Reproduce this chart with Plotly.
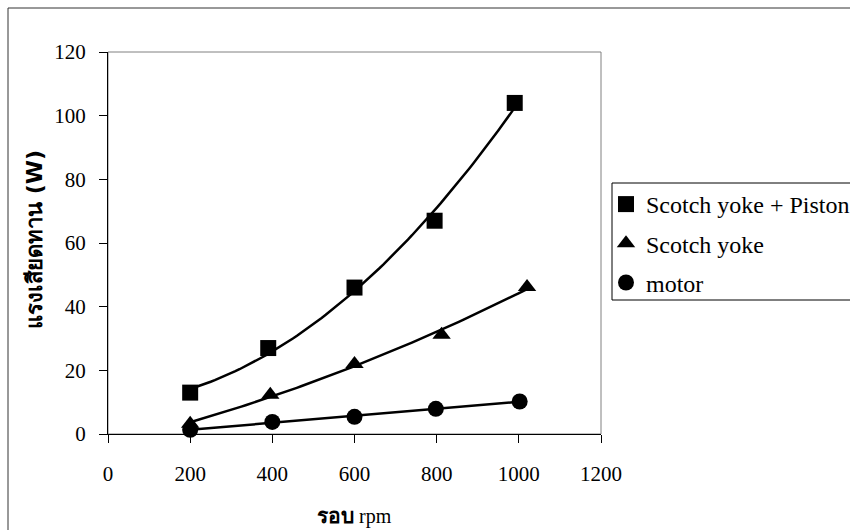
import numpy as np
import plotly.graph_objects as go

# Friction loss (W) against shaft speed (rpm) for three drive configurations
rpm_piston = [200, 390, 600, 795, 990]
loss_piston = [13, 27, 46, 67, 104]

rpm_yoke = [200, 395, 600, 812, 1020]
loss_yoke = [3.2, 12.3, 22, 31.2, 46.2]

rpm_motor = [200, 400, 600, 798, 1002]
loss_motor = [1.3, 3.8, 5.4, 7.9, 10.2]

x_ticks = [0, 200, 400, 600, 800, 1000, 1200]
y_ticks = [0, 20, 40, 60, 80, 100, 120]

names = ["Scotch yoke + Piston", "Scotch yoke", "motor"]

# Figure geometry (pixels)
W, H = 850, 530
ML, MR, MT, MB = 108, 249, 52, 96


def px(xp):
    return (xp - ML) / (W - ML - MR)


def py(yp):
    return (H - MB - yp) / (H - MT - MB)


SERIF = "Liberation Serif"

series = [
    (names[0], rpm_piston, loss_piston, "square", 16, 2),
    (names[1], rpm_yoke, loss_yoke, "triangle-up", 16, 2),
    (names[2], rpm_motor, loss_motor, "circle", 16, 1),
]

fig = go.Figure()

# Trendlines (least-squares polynomial fit through each series)
for name, xs, ys, sym, size, deg in series:
    coef = np.polyfit(xs, ys, deg)
    xf = np.linspace(min(xs), max(xs), 80)
    fig.add_trace(go.Scatter(
        x=xf, y=np.polyval(coef, xf), mode="lines",
        line=dict(color="black", width=2.5),
        showlegend=False, hoverinfo="skip", legendgroup=name,
    ))

# Measured points
for name, xs, ys, sym, size, deg in series:
    fig.add_trace(go.Scatter(
        x=xs, y=ys, mode="markers", name=name, legendgroup=name,
        marker=dict(symbol=sym, size=size, color="black",
                    line=dict(width=0)),
        cliponaxis=False,
    ))

axis_common = dict(
    showgrid=False, zeroline=False, showline=True, linecolor="black",
    linewidth=1, ticks="outside", ticklen=8, tickwidth=1, tickcolor="black",
    tickfont=dict(family=SERIF, size=21, color="black"),
)

fig.update_xaxes(range=[0, 1200], tickvals=x_ticks,
                 ticktext=[str(v) for v in x_ticks],
                 ticklabelstandoff=13, **axis_common)
fig.update_yaxes(range=[0, 120], tickvals=y_ticks,
                 ticktext=[str(v) for v in y_ticks],
                 ticklabelstandoff=9, **axis_common)

shapes = [
    # chart frame
    dict(type="rect", xref="paper", yref="paper",
         x0=px(8), x1=px(900), y0=py(8), y1=py(600),
         line=dict(color="#333333", width=1), fillcolor="rgba(0,0,0,0)",
         layer="below"),
    # plot-area frame
    dict(type="rect", xref="x domain", yref="y domain",
         x0=0, x1=1, y0=0, y1=1,
         line=dict(color="#808080", width=1), fillcolor="rgba(0,0,0,0)",
         layer="below"),
    # legend box
    dict(type="rect", xref="paper", yref="paper",
         x0=px(612), x1=px(900), y0=py(183), y1=py(300),
         line=dict(color="black", width=1), fillcolor="white",
         layer="below"),
]

annotations = [
    dict(text="<b><span style='font-size:21px'>รอบ</span></b> rpm",
         xref="paper", yref="paper",
         x=0.5, y=py(516), xanchor="center", yanchor="middle",
         showarrow=False, font=dict(family=SERIF, size=20, color="black")),
    dict(text="<b>แรงเสียดทาน (W)</b>", xref="paper", yref="paper",
         x=px(34), y=py(240), xanchor="center", yanchor="middle",
         textangle=-90, showarrow=False,
         font=dict(family="DejaVu Sans", size=22, color="black")),
]

fig.update_layout(
    width=W, height=H,
    margin=dict(l=ML, r=MR, t=MT, b=MB, autoexpand=False),
    paper_bgcolor="white", plot_bgcolor="white",
    font=dict(family=SERIF),
    shapes=shapes, annotations=annotations,
    legend=dict(
        x=px(612), y=py(182), xanchor="left", yanchor="top",
        bgcolor="rgba(0,0,0,0)", borderwidth=0,
        font=dict(family=SERIF, size=24, color="black"),
        traceorder="grouped", tracegroupgap=5, itemsizing="trace",
        indentation=-6,
    ),
    showlegend=True,
)

fig.write_html("out.html")
